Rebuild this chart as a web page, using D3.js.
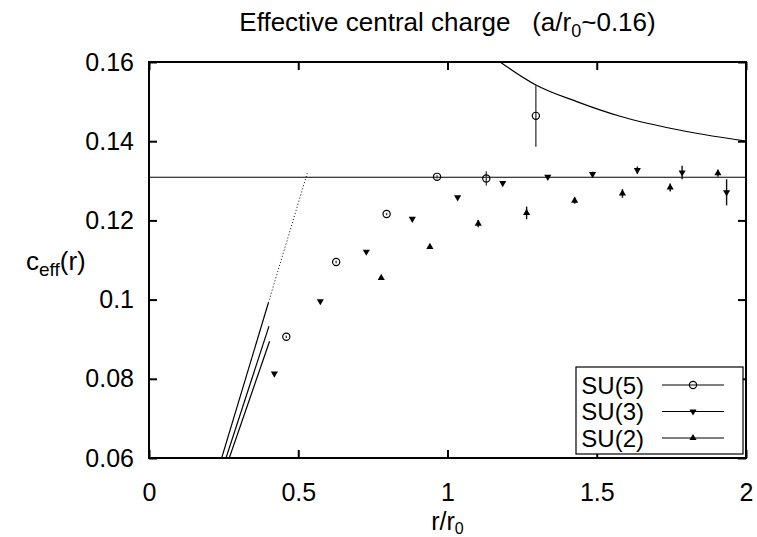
<!DOCTYPE html>
<html>
<head>
<meta charset="utf-8">
<script src="https://cdn.jsdelivr.net/npm/d3@7"></script>
<style>
  body { margin: 0; background: #fff; }
  svg text { font-family: "Liberation Sans", Arial, sans-serif; fill: #000; }
</style>
</head>
<body>
<div id="chart"></div>
<script>
/* DATA */
const xTicks = [0, 0.5, 1, 1.5, 2];
const yTicks = [0.06, 0.08, 0.1, 0.12, 0.14, 0.16];

// SU(5) - open circles
const su5X = [0.46, 0.627, 0.796, 0.965, 1.13, 1.296];
const su5C = [0.0906, 0.1095, 0.1216, 0.1310, 0.1306, 0.1464];
const su5Err = [0.0003, 0.0003, 0.0003, 0.0004, 0.0018, 0.0078];

// SU(3) - down triangles
const su3X = [0.42, 0.574, 0.728, 0.882, 1.034, 1.185, 1.336, 1.486, 1.636, 1.786, 1.935];
const su3C = [0.0813, 0.0996, 0.1121, 0.1204, 0.1258, 0.1294, 0.1310, 0.1317, 0.1327, 0.1321, 0.1271];
const su3Err = [0.0002, 0.0002, 0.0002, 0.0002, 0.0003, 0.0003, 0.0004, 0.0006, 0.0009, 0.0017, 0.0033];

// SU(2) - up triangles
const su2X = [0.778, 0.941, 1.103, 1.265, 1.426, 1.586, 1.746, 1.906];
const su2C = [0.1055, 0.1133, 0.1192, 0.1219, 0.1250, 0.1268, 0.1283, 0.1319];
const su2Err = [0.0002, 0.0003, 0.0009, 0.0016, 0.0008, 0.0011, 0.0010, 0.0009];

// horizontal reference line
const flatC = 0.1309;

// decaying curve at top right
const curveX = [1.176, 1.296, 1.433, 1.578, 1.75, 2.0];
const curveC = [0.16, 0.1542, 0.150, 0.1463, 0.1432, 0.1400];

// short straight lines at lower left
const line1X = [0.2435, 0.40], line1C = [0.06, 0.0992];
const dotX = [0.40, 0.53], dotC = [0.0992, 0.1319];
const line2X = [0.258, 0.402], line2C = [0.06, 0.0933];
const line3X = [0.269, 0.404], line3C = [0.06, 0.0895];

const legendNames = ["SU(5)", "SU(3)", "SU(2)"];

/* LAYOUT */
const width = 757, height = 537;
const margin = { top: 62, right: 11, bottom: 79, left: 149 };
const fontSize = 25, subSize = 18;

const svg = d3.select("#chart").append("svg")
  .attr("width", width)
  .attr("height", height);

const xScale = d3.scaleLinear().domain([0, 2]).range([margin.left, width - margin.right]);
const yScale = d3.scaleLinear().domain([0.06, 0.16]).range([height - margin.bottom, margin.top]);

const fmt = d => String(+d.toFixed(2));

// axes, ticks pointing inward
const gx = svg.append("g")
  .attr("transform", `translate(0,${yScale(0.06)})`)
  .call(d3.axisBottom(xScale).tickValues(xTicks).tickFormat(fmt).tickSize(-8).tickPadding(34));
const gy = svg.append("g")
  .attr("transform", `translate(${xScale(0)},0)`)
  .call(d3.axisLeft(yScale).tickValues(yTicks).tickFormat(fmt).tickSize(-8).tickPadding(15));
svg.append("g")
  .attr("transform", `translate(0,${yScale(0.16)})`)
  .call(d3.axisTop(xScale).tickValues(xTicks).tickFormat("").tickSize(-8));
svg.append("g")
  .attr("transform", `translate(${xScale(2)},0)`)
  .call(d3.axisRight(yScale).tickValues(yTicks).tickFormat("").tickSize(-8));

svg.selectAll(".domain").remove();
svg.selectAll(".tick line").attr("stroke", "#000").attr("stroke-width", 2);
svg.selectAll(".tick text").attr("font-size", fontSize).attr("font-family", null);
gx.selectAll(".tick text").attr("dy", "0.35em");

// frame
svg.append("rect")
  .attr("x", xScale(0)).attr("y", yScale(0.16))
  .attr("width", xScale(2) - xScale(0))
  .attr("height", yScale(0.06) - yScale(0.16))
  .attr("fill", "none").attr("stroke", "#000").attr("stroke-width", 2);

// clip
svg.append("clipPath").attr("id", "clip").append("rect")
  .attr("x", xScale(0)).attr("y", yScale(0.16))
  .attr("width", xScale(2) - xScale(0))
  .attr("height", yScale(0.06) - yScale(0.16));

const plot = svg.append("g").attr("clip-path", "url(#clip)");

const line = d3.line().x(d => xScale(d[0])).y(d => yScale(d[1]));
const zip = (a, b) => a.map((v, i) => [v, b[i]]);

plot.append("path")
  .attr("d", line([[0, flatC], [2, flatC]]))
  .attr("fill", "none").attr("stroke", "#000").attr("stroke-width", 1.2);

plot.append("path")
  .attr("d", line.curve(d3.curveMonotoneX)(zip(curveX, curveC)))
  .attr("fill", "none").attr("stroke", "#000").attr("stroke-width", 1.2);
line.curve(d3.curveLinear);

[[line1X, line1C], [line2X, line2C], [line3X, line3C]].forEach(([a, b]) => {
  plot.append("path")
    .attr("d", line(zip(a, b)))
    .attr("fill", "none").attr("stroke", "#000").attr("stroke-width", 1.2);
});
plot.append("path")
  .attr("d", line(zip(dotX, dotC)))
  .attr("fill", "none").attr("stroke", "#000").attr("stroke-width", 1)
  .attr("stroke-dasharray", "1,2.2");

// markers
const triUp = d3.symbol().type(d3.symbolTriangle).size(22);

function drawMarker(g, kind, cx, cy) {
  if (kind === "circle") {
    g.append("circle").attr("cx", cx).attr("cy", cy).attr("r", 3.6)
      .attr("fill", "none").attr("stroke", "#000").attr("stroke-width", 1.2);
  } else {
    g.append("path").attr("d", triUp())
      .attr("transform", `translate(${cx},${cy})` + (kind === "down" ? " rotate(180)" : ""))
      .attr("fill", "#000");
  }
}

function drawSeries(xs, cs, es, kind) {
  const g = plot.append("g");
  xs.forEach((x, i) => {
    g.append("line")
      .attr("x1", xScale(x)).attr("x2", xScale(x))
      .attr("y1", yScale(cs[i] - es[i])).attr("y2", yScale(cs[i] + es[i]))
      .attr("stroke", kind === "circle" ? "#444" : "#111").attr("stroke-width", 1.4);
    drawMarker(g, kind, xScale(x), yScale(cs[i]));
  });
}

drawSeries(su5X, su5C, su5Err, "circle");
drawSeries(su3X, su3C, su3Err, "down");
drawSeries(su2X, su2C, su2Err, "up");

// legend
const lg = svg.append("g");
lg.append("rect")
  .attr("x", 576).attr("y", 367).attr("width", 167).attr("height", 87)
  .attr("fill", "#fff").attr("stroke", "#000").attr("stroke-width", 1.2);
const kinds = ["circle", "down", "up"];
legendNames.forEach((name, i) => {
  const cy = 385 + i * 26.5;
  lg.append("text")
    .attr("x", 644).attr("y", cy).attr("dy", "0.36em")
    .attr("text-anchor", "end").attr("font-size", 24)
    .text(name);
  lg.append("line")
    .attr("x1", 662).attr("x2", 724).attr("y1", cy).attr("y2", cy)
    .attr("stroke", "#000").attr("stroke-width", 1.2);
  drawMarker(lg, kinds[i], 693, cy);
});

// title
const title = svg.append("text")
  .attr("x", (xScale(0) + xScale(2)) / 2).attr("y", 31)
  .attr("text-anchor", "middle").attr("font-size", 26)
  .attr("xml:space", "preserve")
  .style("white-space", "pre");
title.append("tspan").text("Effective central charge   (a/r");
title.append("tspan").attr("font-size", subSize).attr("dy", 6).text("0");
title.append("tspan").attr("dy", -6).text("~0.16)");

// y label
const yl = svg.append("text").attr("x", 26).attr("y", 270).attr("font-size", 26);
yl.append("tspan").text("c");
yl.append("tspan").attr("font-size", 19).attr("dy", 6).text("eff");
yl.append("tspan").attr("dy", -6).text("(r)");

// x label
const xl = svg.append("text")
  .attr("x", (xScale(0) + xScale(2)) / 2).attr("y", 530)
  .attr("text-anchor", "middle").attr("font-size", fontSize);
xl.append("tspan").text("r/r");
xl.append("tspan").attr("font-size", 16).attr("dy", 4).text("0");
</script>
</body>
</html>
